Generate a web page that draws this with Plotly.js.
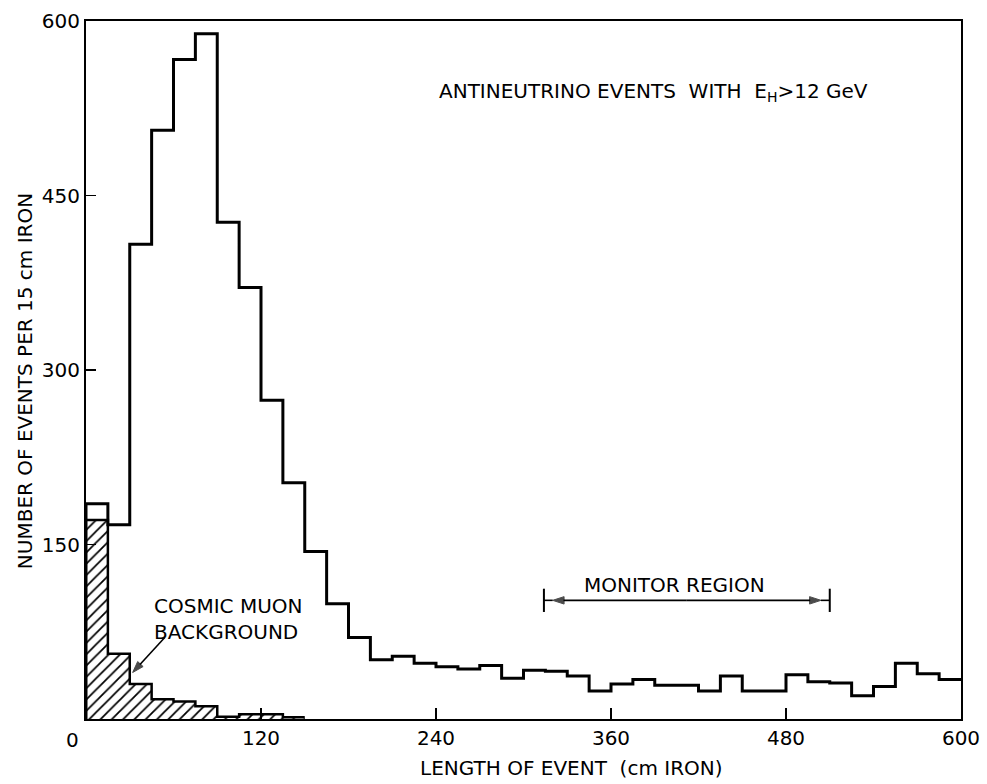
<!DOCTYPE html>
<html>
<head>
<meta charset="utf-8">
<script src="https://cdn.plot.ly/plotly-3.0.1.min.js"></script>
<style>
  html, body { margin: 0; padding: 0; background: #ffffff; }
  #chart { width: 987px; height: 784px; }
</style>
</head>
<body>
<div id="chart"></div>
<script>
// Event length bins (cm iron), 15 cm wide
const binEdges = [0, 15, 30, 45, 60, 75, 90, 105, 120, 135, 150, 165, 180, 195, 210, 225,
  240, 255, 270, 285, 300, 315, 330, 345, 360, 375, 390, 405, 420, 435, 450, 465,
  480, 495, 510, 525, 540, 555, 570, 585, 600];

// Antineutrino events per bin
const eventCounts = [185, 167, 408, 506, 567, 589, 427, 371, 274, 203, 144, 99, 70, 51, 54, 48,
  45, 43, 46, 35, 42, 41, 37, 24, 30, 34, 29, 29, 24, 37, 24, 24,
  38, 32, 31, 20, 28, 48, 39, 34];

// Cosmic muon background per bin (first ten bins)
const cosmicCounts = [171, 56, 30, 17, 15, 11, 2, 4, 4, 1.5];

// the "0" of the length axis sits left of the corner, so it is placed separately
const xTickVals = [120, 240, 360, 480, 600];
const xTickText = ['120', '240', '360', '480', '600'];
const xOriginLabel = '0';
const yTickVals = [150, 300, 450, 600];
const yTickText = ['150', '300', '450', '600'];

// Monitor region span (cm iron) and the height of its bracket
const monitorRange = [314, 510];
const monitorLevel = 102;

// Pointer from the background label to the hatched histogram: [tail, head]
const pointerX = [54, 32];
const pointerY = [70, 40];

const FONT = 'DejaVu Sans, sans-serif';

// step outlines: each bin value held across its width
function stepX(n) { return binEdges.slice(0, n + 1); }
function stepY(vals) { return vals.concat([vals[vals.length - 1]]); }

const cosmicTrace = {
  type: 'scatter',
  mode: 'lines',
  x: stepX(cosmicCounts.length),
  y: stepY(cosmicCounts),
  line: { shape: 'hv', color: '#000', width: 2.5 },
  fill: 'tozeroy',
  fillcolor: 'rgba(255,255,255,0)',
  fillpattern: { shape: '/', fgcolor: '#000', bgcolor: '#fff', size: 8, solidity: 0.22 },
  hoverinfo: 'skip'
};

const eventTrace = {
  type: 'scatter',
  mode: 'lines',
  x: [0].concat(stepX(eventCounts.length)),
  y: [0].concat(stepY(eventCounts)),
  line: { shape: 'hv', color: '#000', width: 3 },
  hoverinfo: 'skip'
};

const monitorMid = (monitorRange[0] + monitorRange[1]) / 2;

// double-headed bracket line with arrowheads just inside the end bars
const monitorArrows = {
  type: 'scatter',
  mode: 'lines+markers',
  x: [monitorMid, monitorRange[0] + 6, null, monitorMid, monitorRange[1] - 6],
  y: [monitorLevel, monitorLevel, null, monitorLevel, monitorLevel],
  line: { color: '#000', width: 1.6 },
  marker: { symbol: 'arrow', size: [0, 12, 0, 0, 12], color: '#000', angleref: 'previous',
            line: { width: 1, color: '#000' } },
  hoverinfo: 'skip'
};

const pointerTrace = {
  type: 'scatter',
  mode: 'lines+markers',
  x: pointerX,
  y: pointerY,
  line: { color: '#000', width: 1.6 },
  marker: { symbol: 'arrow', size: [0, 12], color: '#000', angleref: 'previous',
            line: { width: 1, color: '#000' } },
  hoverinfo: 'skip'
};

const layout = {
  width: 987,
  height: 784,
  margin: { l: 86, r: 26, t: 21, b: 65 },
  paper_bgcolor: '#fff',
  plot_bgcolor: '#fff',
  showlegend: false,
  font: { family: FONT, color: '#000', size: 20 },
  xaxis: {
    range: [0, 600],
    showgrid: false,
    zeroline: false,
    showline: true,
    linecolor: '#000',
    linewidth: 2,
    mirror: true,
    ticks: 'inside',
    ticklen: 11,
    tickwidth: 1.5,
    tickcolor: '#000',
    tickvals: xTickVals,
    ticktext: xTickText,
    tickfont: { family: FONT, size: 20, color: '#000' }
  },
  yaxis: {
    range: [0, 600],
    showgrid: false,
    zeroline: false,
    showline: true,
    linecolor: '#000',
    linewidth: 2,
    mirror: true,
    ticks: 'inside',
    ticklen: 10,
    tickwidth: 1.5,
    tickcolor: '#000',
    tickvals: yTickVals,
    ticktext: yTickText,
    tickfont: { family: FONT, size: 20, color: '#000' }
  },
  shapes: [
    { type: 'line', xref: 'x', yref: 'y', x0: monitorRange[0], x1: monitorRange[0],
      y0: monitorLevel - 10, y1: monitorLevel + 10, line: { color: '#000', width: 2 } },
    { type: 'line', xref: 'x', yref: 'y', x0: monitorRange[1], x1: monitorRange[1],
      y0: monitorLevel - 10, y1: monitorLevel + 10, line: { color: '#000', width: 2 } },
    { type: 'line', xref: 'x', yref: 'y', x0: monitorRange[0], x1: monitorRange[0] + 6,
      y0: monitorLevel, y1: monitorLevel, line: { color: '#000', width: 1.6 } },
    { type: 'line', xref: 'x', yref: 'y', x0: monitorRange[1] - 6, x1: monitorRange[1],
      y0: monitorLevel, y1: monitorLevel, line: { color: '#000', width: 1.6 } }
  ],
  annotations: [
    { xref: 'x', yref: 'y', x: 241, y: 539, xanchor: 'left', yanchor: 'middle',
      text: 'ANTINEUTRINO EVENTS  WITH  E<sub>H</sub>&gt;12 GeV', showarrow: false,
      font: { family: FONT, size: 20, color: '#000' } },
    { xref: 'x', yref: 'y', x: 340, y: 115, xanchor: 'left', yanchor: 'middle',
      text: 'MONITOR REGION', showarrow: false,
      font: { family: FONT, size: 20, color: '#000' } },
    { xref: 'x', yref: 'y', x: 45, y: 109, xanchor: 'left', yanchor: 'top', align: 'left',
      text: 'COSMIC MUON<br>BACKGROUND', showarrow: false,
      font: { family: FONT, size: 20, color: '#000' } },
    { xref: 'paper', yref: 'paper', x: -0.016, y: -0.01, xanchor: 'center', yanchor: 'top',
      text: xOriginLabel, showarrow: false, font: { family: FONT, size: 20, color: '#000' } },
    { xref: 'paper', yref: 'paper', x: 0.555, y: -0.070, xanchor: 'center', yanchor: 'middle',
      text: 'LENGTH OF EVENT  (cm IRON)', showarrow: false,
      font: { family: FONT, size: 20, color: '#000' } },
    { xref: 'paper', yref: 'paper', x: -0.0697, y: 0.484, xanchor: 'center', yanchor: 'middle',
      textangle: -90, text: 'NUMBER OF EVENTS PER 15 cm IRON', showarrow: false,
      font: { family: FONT, size: 20, color: '#000' } }
  ]
};

Plotly.newPlot('chart', [cosmicTrace, eventTrace, monitorArrows, pointerTrace], layout,
  { staticPlot: true, displayModeBar: false });
</script>
</body>
</html>
